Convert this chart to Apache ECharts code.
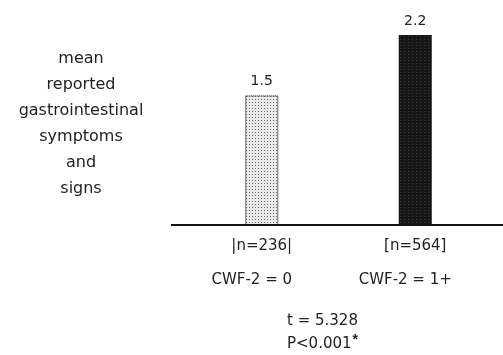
<!DOCTYPE html>
<html>
<head>
<meta charset="utf-8">
<script src="https://cdn.jsdelivr.net/npm/echarts@6/dist/echarts.min.js"></script>
<style>
html,body{margin:0;padding:0;background:#fff;}
#c{width:503px;height:355px;}
</style>
</head>
<body>
<div id="c"></div>
<script>
const categories = ['CWF-2 = 0', 'CWF-2 = 1+'];
const nLabels = ['|n=236|', '[n=564]'];
const values = [1.5, 2.2];
const yTitleLines = ['mean', 'reported', 'gastrointestinal', 'symptoms', 'and', 'signs'];
const statLines = ['t = 5.328', 'P<0.001'];

const FONT = '"DejaVu Sans", "Liberation Sans", sans-serif';
const TXT = '#222';

const barStyles = [
  {
    color: '#e9e9e9',
    borderColor: '#555',
    borderWidth: 1,
    borderType: 'dotted',
    decal: {symbol: 'rect', symbolSize: 1, dashArrayX: [[1, 2]], dashArrayY: [1, 2], color: 'rgba(50,50,50,0.7)'}
  },
  {
    color: '#161616',
    borderWidth: 0,
    decal: {symbol: 'rect', symbolSize: 1, dashArrayX: [[1, 3]], dashArrayY: [1, 2], color: 'rgba(120,120,120,0.35)'}
  }
];

const chart = echarts.init(document.getElementById('c'), null, {renderer: 'canvas'});
chart.setOption({
  animation: false,
  backgroundColor: '#ffffff',
  grid: {left: 185, right: 11, top: 35, bottom: 130},
  xAxis: {
    type: 'category',
    data: categories,
    axisLine: {show: false},
    axisTick: {show: false},
    axisLabel: {
      margin: 4,
      interval: 0,
      formatter: function (v, i) { return '{n|' + nLabels[i] + '}\n{c|' + v + '}'; },
      rich: {
        n: {fontSize: 15, lineHeight: 34, color: TXT, fontFamily: FONT},
        c: {fontSize: 15, lineHeight: 34, color: TXT, fontFamily: FONT, padding: [0, 20, 0, 0]}
      }
    }
  },
  yAxis: {
    type: 'value', min: 0, max: 2.2, show: false
  },
  series: [{
    type: 'bar',
    barWidth: 33,
    data: values.map((v, i) => ({value: v, itemStyle: barStyles[i]})),
    label: {
      show: true, position: 'top', distance: 7,
      fontSize: 14, color: TXT, fontFamily: FONT
    }
  }],
  graphic: [
    {
      type: 'line',
      shape: {x1: 171, y1: 225, x2: 503, y2: 225},
      style: {stroke: '#111', lineWidth: 2},
      z: 10
    },
    {
      type: 'text',
      style: {
        x: 81, y: 46,
        text: yTitleLines.join('\n'),
        textAlign: 'center', textVerticalAlign: 'top',
        fontSize: 16, lineHeight: 26,
        fill: TXT, fontFamily: FONT
      }
    },
    {
      type: 'text',
      style: {
        x: 287, y: 310,
        text: statLines[0] + '\n' + statLines[1] + '{s|*}',
        rich: {s: {fontSize: 14, verticalAlign: 'top', fill: TXT, fontWeight: 'bold', padding: [0, 0, 6, 1]}},
        textAlign: 'left', textVerticalAlign: 'top',
        fontSize: 15, lineHeight: 23,
        fill: TXT, fontFamily: FONT
      }
    }
  ]
});
</script>
</body>
</html>
